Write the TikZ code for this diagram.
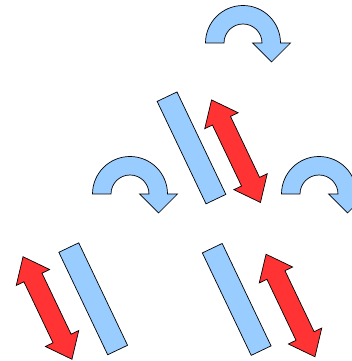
\documentclass[tikz,border=0pt]{standalone}
\usepackage{tikz}
\definecolor{barblue}{HTML}{99CCFF}
\definecolor{arrowred}{HTML}{FF3333}

\begin{document}
\begin{tikzpicture}[x=1pt, y=1pt,
  blueshape/.style={fill=barblue, draw=black, line width=0.7pt},
  redshape/.style={fill=arrowred, draw=black, line width=0.7pt}]
  \clip (0,0) rectangle (352,361);
  % rotation arrows
  \foreach \cx/\cy in {243/318, 130/167, 319/167}{
    \draw[blueshape, shift={(\cx,\cy)}] (-37.5,0) arc[start angle=180, end angle=0, radius=37.5]
      -- (47.5,0) -- (28.5,-19) -- (9.5,0) -- (19,0)
      arc[start angle=0, end angle=180, radius=19] -- cycle;
  }
  % bars and double arrows
  \foreach \bx/\by/\ax/\ay in {191.5/213.1/236/209.8, 93.2/62.2/47.5/53, 236.7/61.6/290.5/55.5}{
    \draw[blueshape, shift={(\bx,\by)}, rotate=25.5] (-11,-56.75) rectangle (11,56.75);
    \draw[redshape, shift={(\ax,\ay)}, rotate=25.5] (0,56.8) -- (18.5,33.8) -- (10,33.8) -- (10,-33.8)
      -- (18.5,-33.8) -- (0,-56.8) -- (-18.5,-33.8) -- (-10,-33.8) -- (-10,33.8) -- (-18.5,33.8) -- cycle;
  }
\end{tikzpicture}
\end{document}
